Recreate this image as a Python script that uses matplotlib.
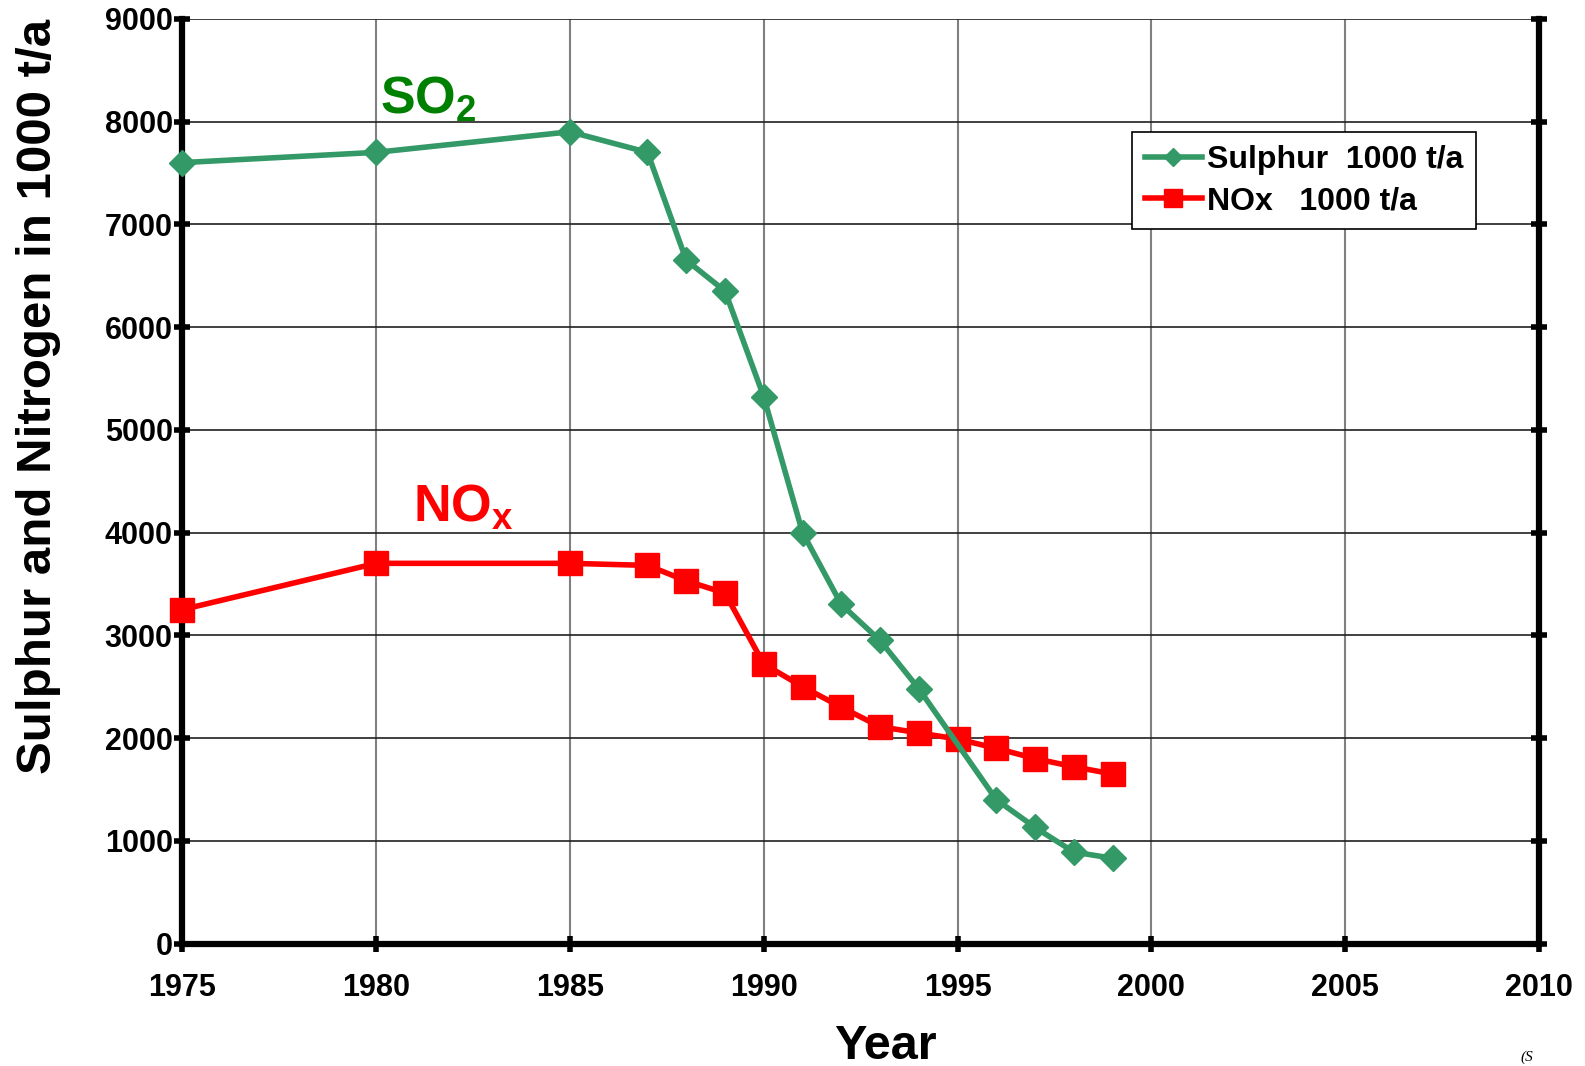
import numpy as np
import matplotlib
matplotlib.use('Agg')
import matplotlib.pyplot as plt

plt.rcParams['font.family'] = 'Liberation Sans'
plt.rcParams['font.weight'] = 'bold'
plt.rcParams['mathtext.fontset'] = 'custom'
plt.rcParams['mathtext.default'] = 'bf'
plt.rcParams['mathtext.bf'] = 'Liberation Sans:bold'
plt.rcParams['mathtext.rm'] = 'Liberation Sans:bold'

# data
years_so2 = [1975, 1980, 1985, 1987, 1988, 1989, 1990, 1991, 1992, 1993, 1994, 1996, 1997, 1998, 1999]
sulphur = [7600, 7700, 7900, 7700, 6650, 6350, 5320, 4000, 3300, 2950, 2480, 1400, 1130, 890, 830]
years_nox = [1975, 1980, 1985, 1987, 1988, 1989, 1990, 1991, 1992, 1993, 1994, 1995, 1996, 1997, 1998, 1999]
nox = [3250, 3700, 3700, 3680, 3530, 3410, 2720, 2500, 2300, 2110, 2050, 1990, 1900, 1800, 1720, 1650]

x_ticks = [1975, 1980, 1985, 1990, 1995, 2000, 2005, 2010]
y_ticks = [0, 1000, 2000, 3000, 4000, 5000, 6000, 7000, 8000, 9000]

green = '#339966'
red = '#FF0000'

fig = plt.figure(figsize=(15.85, 10.66), dpi=100)
ax = fig.add_axes([0.1151, 0.1149, 0.8558, 0.8675])

ax.plot(years_nox, nox, color=red, lw=4, marker='s', ms=17.5,
        label='NOx   1000 t/a', zorder=3, clip_on=False)
ax.plot(years_so2, sulphur, color=green, lw=4, marker='D', ms=13.5,
        label='Sulphur  1000 t/a', zorder=4, clip_on=False)

ax.set_xlim(1975, 2010)
ax.set_ylim(0, 9000)
ax.set_xticks(x_ticks)
ax.set_yticks(y_ticks)
ax.xaxis.grid(True, color='#808080', lw=1.5)
ax.yaxis.grid(True, color='#202020', lw=1.2)
ax.set_axisbelow(True)

for side in ['left', 'bottom', 'right']:
    ax.spines[side].set_linewidth(4.5)
ax.spines['top'].set_visible(False)
ax.tick_params(axis='both', direction='inout', length=12, width=4, labelsize=22)
ax.tick_params(axis='y', right=True, pad=1)
ax.tick_params(axis='x', pad=15)

ax.set_xlabel('Year', fontsize=35, fontweight='bold', va='top')
ax.xaxis.set_label_coords(0.518, -0.087)
ax.set_ylabel('Sulphur and Nitrogen in 1000 t/a', fontsize=35.5, fontweight='bold')
ax.yaxis.set_label_coords(-0.0895, 0.592)

ax.text(1980.1, 8073, r'SO$_2$', color='#008000', fontsize=37.5, fontweight='bold', va='baseline')
ax.text(1980.95, 4102, r'NO$_x$', color=red, fontsize=37.5, fontweight='bold', va='baseline')

handles, labels = ax.get_legend_handles_labels()
leg = ax.legend(handles[::-1], labels[::-1], loc='upper left', bbox_to_anchor=(0.700, 0.8775),
                fontsize=23, frameon=True, fancybox=False, edgecolor='black', framealpha=1,
                numpoints=1, markerscale=0.7, handlelength=1.8, handletextpad=0.15,
                labelspacing=0.35, borderpad=0.4, borderaxespad=0)
leg.get_frame().set_linewidth(1.2)

fig.text(0.959, 0.002, '(S', fontsize=11, family='Liberation Serif', fontweight='normal',
         style='italic', va='bottom')

fig.savefig('out.png', dpi=100)
